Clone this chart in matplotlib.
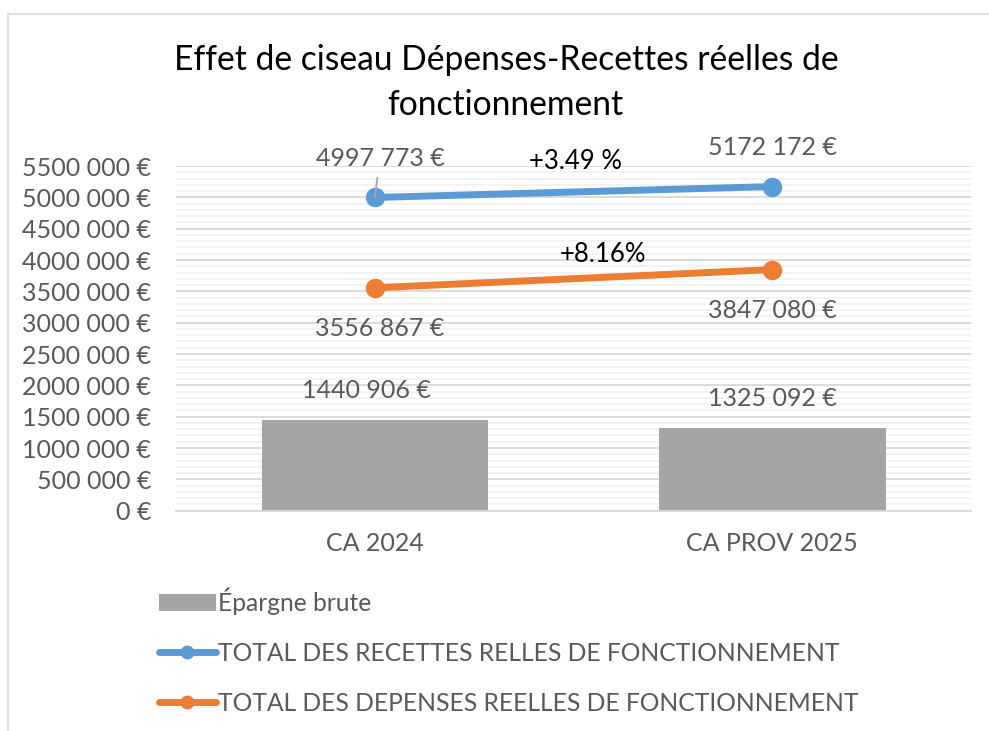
import matplotlib.pyplot as plt
from matplotlib.patches import Rectangle, Patch
from matplotlib.lines import Line2D
from matplotlib.ticker import MultipleLocator, FuncFormatter

categories = ["CA 2024", "CA PROV 2025"]
epargne = [1440906, 1325092]
recettes = [4997773, 5172172]
depenses = [3556867, 3847080]
variations = ["+3.49 %", "+8.16%"]

GRIS = "#595959"
BLEU = "#5B9BD5"
ORANGE = "#ED7D31"
plt.rcParams['font.family'] = ['Lato', 'DejaVu Sans']


def euro(v, pos=None):
    v = int(round(v))
    if v < 1000:
        return f"{v} €"
    return f"{v // 1000} {v % 1000:03d} €"


fig = plt.figure(figsize=(9.89, 7.31), dpi=100)
ax = fig.add_axes([0.178, 0.3014, 0.8038, 0.4715])

x = range(len(categories))
ax.bar(x, epargne, width=0.57, color="#A5A5A5", zorder=2)
ax.plot(x, recettes, color=BLEU, lw=5, marker="o", ms=13, zorder=3)
ax.plot(x, depenses, color=ORANGE, lw=5, marker="o", ms=13, zorder=3)

ax.set_xlim(-0.5, 1.5)
ax.set_ylim(0, 5500000)
ax.yaxis.set_major_locator(MultipleLocator(500000))
ax.yaxis.set_minor_locator(MultipleLocator(100000))
ax.yaxis.set_major_formatter(FuncFormatter(euro))
ax.set_xticks(list(x))
ax.set_xticklabels(categories)
ax.tick_params(axis="both", which="both", length=0, labelsize=18, colors=GRIS)
ax.tick_params(axis="x", pad=15)
ax.tick_params(axis="y", pad=18)
ax.grid(axis="y", which="major", color="#D9D9D9", lw=1.3, zorder=0)
ax.grid(axis="y", which="minor", color="#F2F2F2", lw=1.3, zorder=0)
for s in ["top", "right", "left"]:
    ax.spines[s].set_visible(False)
ax.spines["bottom"].set_color("#D9D9D9")
ax.spines["bottom"].set_linewidth(1.3)

# étiquettes de données
ax.text(-0.02, epargne[0] + 470000, euro(epargne[0]), ha="center", va="center", fontsize=18, color=GRIS)
ax.text(1, epargne[1] + 458000, euro(epargne[1]), ha="center", va="center", fontsize=18, color=GRIS)
ax.annotate(euro(recettes[0]), xy=(0, recettes[0]), xytext=(0.013, recettes[0] + 630000),
            ha="center", va="center", fontsize=18, color=GRIS, zorder=5,
            arrowprops=dict(arrowstyle="-", color="#A6A6A6", lw=1.3, shrinkA=4, shrinkB=0))
ax.text(1, recettes[1] + 616000, euro(recettes[1]), ha="center", va="center", fontsize=18, color=GRIS)
ax.text(0.013, depenses[0] - 642000, euro(depenses[0]), ha="center", va="center", fontsize=18, color=GRIS)
ax.text(1, depenses[1] - 660000, euro(depenses[1]), ha="center", va="center", fontsize=18, color=GRIS)

ax.text(0.505, 5570000, variations[0], ha="center", va="center", fontsize=18.5, color="black")
ax.text(0.575, 4080000, variations[1], ha="center", va="center", fontsize=18.5, color="black")

fig.text(0.512, 0.918, "Effet de ciseau Dépenses-Recettes réelles de", ha="center", va="center",
         fontsize=24.2, color="black")
fig.text(0.511, 0.857, "fonctionnement", ha="center", va="center", fontsize=24.2, color="black")

handles = [
    Patch(facecolor="#A5A5A5"),
    Line2D([], [], color=BLEU, lw=5, marker="o", ms=9, solid_capstyle="round"),
    Line2D([], [], color=ORANGE, lw=5, marker="o", ms=9, solid_capstyle="round"),
]
labels = ["Épargne brute",
          "TOTAL DES RECETTES RELLES DE FONCTIONNEMENT",
          "TOTAL DES DEPENSES REELLES DE FONCTIONNEMENT"]
fig.legend(handles, labels, loc="upper left", bbox_to_anchor=(0.151, 0.21), frameon=False,
           fontsize=17.7, labelcolor=GRIS, handlelength=2.3, handletextpad=0.08,
           labelspacing=1.1, borderaxespad=0, handleheight=0.7)

fig.patches.append(Rectangle((8 / 989, -0.1), 1.2, 1 - 14 / 731 + 0.1, transform=fig.transFigure,
                             fill=False, edgecolor="#D9D9D9", lw=1.2))

fig.savefig("out.png", dpi=100)
